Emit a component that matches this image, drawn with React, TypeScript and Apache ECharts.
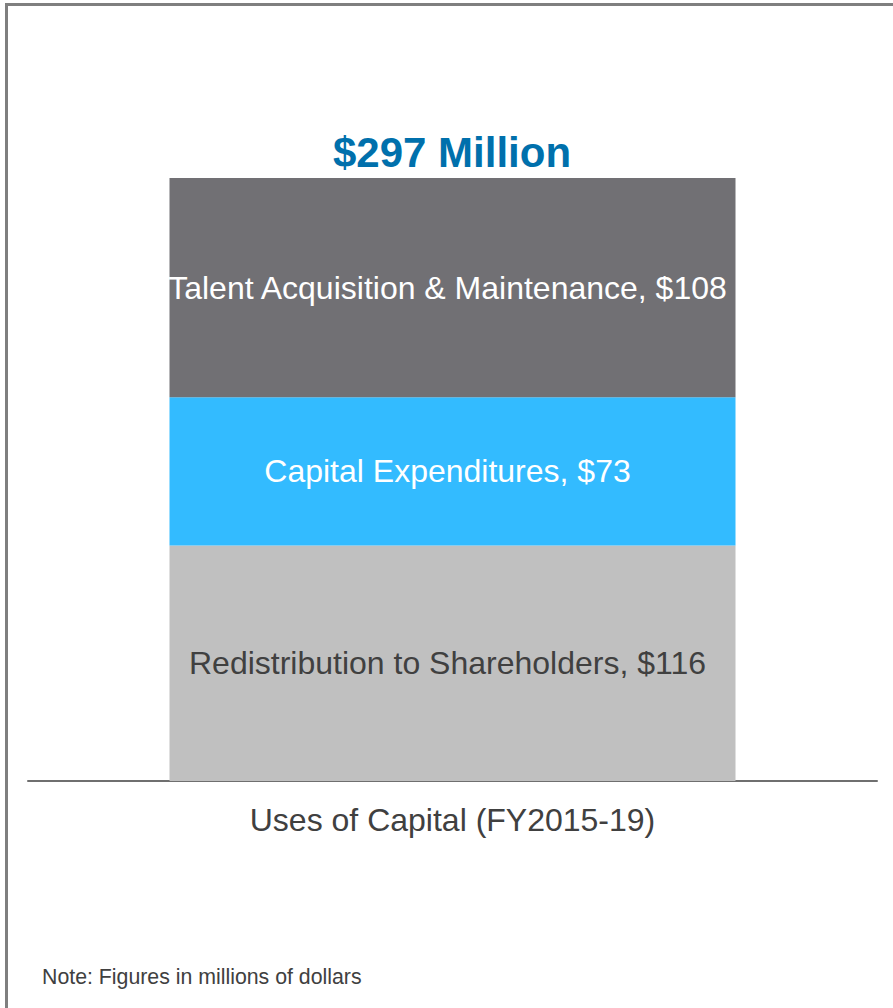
import React, { useEffect, useRef } from "react";
import * as echarts from "echarts";

const categories = ["Uses of Capital (FY2015-19)"];
const seriesNames = [
  "Redistribution to Shareholders",
  "Capital Expenditures",
  "Talent Acquisition & Maintenance",
];
const seriesValues = [116, 73, 108];
const seriesColors = ["#C0C0C0", "#33BBFF", "#717074"];
const labelColors = ["#404040", "#FFFFFF", "#FFFFFF"];
const noteText = "Note: Figures in millions of dollars";

export default function App() {
  const ref = useRef<HTMLDivElement>(null);
  useEffect(() => {
    if (!ref.current) return;
    const chart = echarts.init(ref.current, undefined, { renderer: "svg" });
    const total = seriesValues.reduce((a, b) => a + b, 0);
    const font = "Arial, 'Liberation Sans', Helvetica, sans-serif";
    chart.setOption({
      animation: false,
      title: {
        text: `$${total} Million`,
        left: 328,
        top: 126,
        textStyle: { fontSize: 42, fontWeight: "bold", color: "#0070AC", fontFamily: font },
      },
      grid: { left: 28, right: 16, top: 178, bottom: 227 },
      xAxis: {
        type: "category",
        data: categories,
        axisLine: { show: true, lineStyle: { color: "#6F6F6F", width: 2 } },
        axisTick: { show: false },
        axisLabel: { color: "#404040", fontSize: 32, fontFamily: font, margin: 23 },
      },
      yAxis: {
        type: "value",
        min: 0,
        max: total,
        show: false,
        splitLine: { show: false },
      },
      graphic: [
        {
          type: "rect",
          shape: { x: 6.5, y: 4.5, width: 1000, height: 1100 },
          style: { fill: "none", stroke: "#7F7F7F", lineWidth: 3 },
          silent: true,
        },
        {
          type: "text",
          left: 42,
          top: 966,
          style: { text: noteText, fontSize: 21.3, fill: "#404040", fontFamily: font },
        },
      ],
      series: seriesNames.map((name, i) => ({
        name,
        type: "bar",
        stack: "total",
        barWidth: 566,
        data: [seriesValues[i]],
        itemStyle: { color: seriesColors[i] },
        label: {
          show: true,
          position: "inside",
          offset: [-5, 0],
          formatter: `${name}, $${seriesValues[i]}`,
          color: labelColors[i],
          fontSize: 32,
          fontFamily: font,
        },
      })),
    });
    return () => chart.dispose();
  }, []);
  return (
    <div
      ref={ref}
      style={{ position: "absolute", left: 0, top: 0, width: 893, height: 1008 }}
    />
  );
}
